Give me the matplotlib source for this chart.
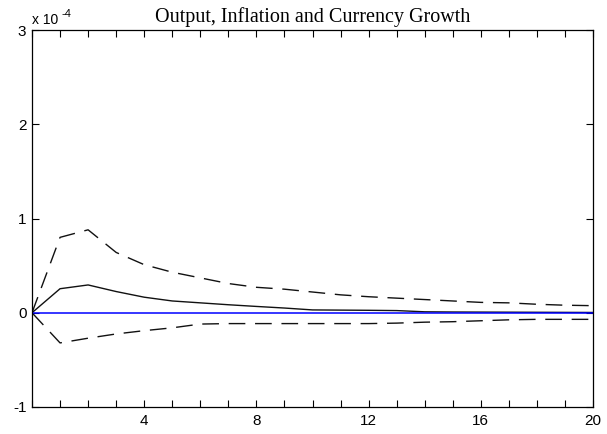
import matplotlib
matplotlib.use('Agg')
import matplotlib.pyplot as plt
from matplotlib.ticker import MultipleLocator

plt.rcParams['axes.unicode_minus'] = False

# impulse response, values in units of 1e-4
steps = list(range(21))
response = [0, 0.255, 0.295, 0.225, 0.165, 0.125, 0.105, 0.085, 0.067, 0.05,
            0.03, 0.028, 0.026, 0.023, 0.01, 0.008, 0.007, 0.006, 0.005, 0.004, 0.003]
upper = [0, 0.80, 0.88, 0.64, 0.51, 0.43, 0.37, 0.31, 0.27, 0.25,
         0.22, 0.19, 0.17, 0.155, 0.14, 0.125, 0.11, 0.105, 0.09, 0.08, 0.075]
lower = [0, -0.32, -0.27, -0.225, -0.19, -0.16, -0.12, -0.115, -0.115, -0.115,
         -0.115, -0.115, -0.115, -0.11, -0.10, -0.095, -0.085, -0.075, -0.07, -0.07, -0.07]
title = 'Output, Inflation and Currency Growth'

fig = plt.figure(figsize=(6.07, 4.34), dpi=100)
ax = fig.add_axes([32/607, 1-407/434, (593-32)/607, (407-30)/434])

ax.plot(steps, response, color='#111111', lw=1.0)
ax.plot(steps, upper, color='#111111', lw=1.0, dashes=(12, 7))
ax.plot(steps, lower, color='#111111', lw=1.0, dashes=(12, 7))
ax.plot([0, 20], [0, 0], color='blue', lw=1.1)

ax.set_xlim(0, 20)
ax.set_ylim(-1, 3)
ax.set_xticks([4, 8, 12, 16, 20])
ax.xaxis.set_minor_locator(MultipleLocator(1))
ax.set_yticks([-1, 0, 1, 2, 3])
ax.tick_params(which='both', direction='in', top=True, right=True,
               length=5, width=0.8, labelsize=11)
ax.tick_params(axis='x', pad=5)
ax.tick_params(axis='y', pad=4)
for lab in ax.get_xticklabels() + ax.get_yticklabels():
    lab.set_family('Liberation Sans')
for s in ax.spines.values():
    s.set_linewidth(0.9)

# "x 10^-4" multiplier, drawn as plain text with a raised exponent
ax.text(0.0, 1.008, 'x 10', transform=ax.transAxes, fontsize=10,
        family='Liberation Sans', ha='left', va='bottom')
ax.text(0.052, 1.03, '-4', transform=ax.transAxes, fontsize=8,
        family='Liberation Sans', ha='left', va='bottom')
ax.set_title(title, family='Liberation Serif', fontsize=14.5, pad=6)

fig.savefig('out.png', dpi=100)
